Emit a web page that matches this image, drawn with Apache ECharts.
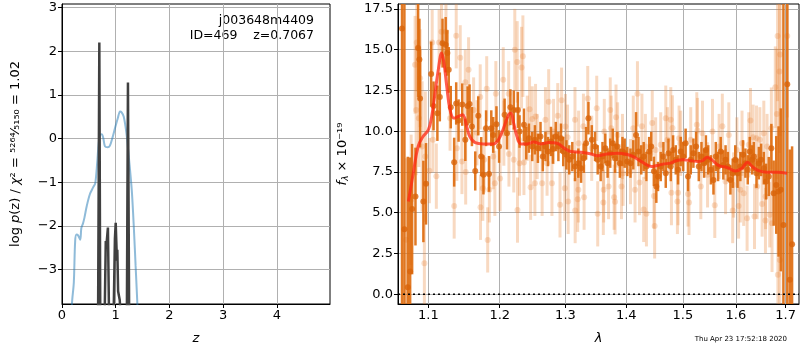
<!DOCTYPE html>
<html>
<head>
<meta charset="utf-8">
<script src="https://cdn.jsdelivr.net/npm/echarts@6/dist/echarts.min.js"></script>
<style>
html, body { margin: 0; padding: 0; background: #fff; }
#chart { width: 800px; height: 350px; }
</style>
</head>
<body>
<div id="chart"></div>
<script>
// left panel: p(z)
var zBlue = [0.16,0.19,0.22,0.245,0.27,0.30,0.34,0.36,0.39,0.42,0.46,0.52,0.58,0.62,0.655,0.68,0.705,0.74,0.77,0.80,0.85,0.89,0.94,0.99,1.04,1.08,1.11,1.15,1.20,1.25,1.30,1.34,1.37,1.40,1.42]
var pBlue = [-4.3,-3.7,-3.3,-2.35,-2.2,-2.22,-2.32,-2.05,-1.95,-1.8,-1.55,-1.27,-1.12,-1.02,-0.56,-0.15,0.08,0.1,0.0,-0.18,-0.2,-0.17,0.02,0.25,0.47,0.62,0.6,0.5,0.12,-0.5,-1.2,-2.1,-2.9,-3.7,-4.3]
var zBlack = [0.60,0.672,0.695,0.712,0.76,0.795,0.815,0.83,0.855,0.875,0.93,0.962,0.985,1.0,1.015,1.022,1.03,1.045,1.06,1.075,1.09,1.15,1.208,1.228,1.25,1.30]
var pBlack = [-4.5,-4.0,2.2,-4.0,-4.5,-4.0,-2.35,-2.4,-2.04,-4.0,-4.5,-4.0,-2.3,-1.93,-2.5,-2.8,-2.55,-3.5,-3.6,-3.7,-4.0,-4.5,-4.0,1.28,-4.0,-4.5]
var zTicks = [0,1,2,3,4]
var pTicks = [-3,-2,-1,0,1,2,3]

// right panel: spectrum
var lamDark = [1.0653,1.0684,1.0728,1.0759,1.0785,1.0829,1.0864,1.0881,1.0890,1.0934,1.0969,1.1038,1.1070,1.1122,1.1155,1.1192,1.1235,1.1258,1.1277,1.1305,1.1352,1.1380,1.1413,1.1464,1.1507,1.1539,1.1567,1.1600,1.1647,1.1690,1.1732,1.1764,1.1802,1.1844,1.1877,1.1905,1.1952,1.1990,1.2071,1.2106,1.2157,1.2207,1.2268,1.2293,1.2359,1.2394,1.2434,1.2485,1.2525,1.2571,1.2611,1.2646,1.2687,1.2727,1.2773,1.2803,1.2848,1.2889,1.2929,1.2965,1.3016,1.3060,1.3109,1.3152,1.3206,1.3250,1.3293,1.3331,1.3369,1.3424,1.3478,1.3521,1.3570,1.3600,1.3647,1.3685,1.3729,1.3772,1.3810,1.3848,1.3891,1.3935,1.3973,1.4018,1.4072,1.4120,1.4168,1.4210,1.4258,1.4300,1.4348,1.4396,1.4432,1.4480,1.4522,1.4552,1.4600,1.4648,1.4690,1.4738,1.4780,1.4822,1.4870,1.4912,1.4960,1.5006,1.5050,1.5094,1.5144,1.5193,1.5243,1.5293,1.5343,1.5393,1.5426,1.5470,1.5520,1.5569,1.5613,1.5657,1.5707,1.5757,1.5800,1.5844,1.5894,1.5938,1.5988,1.6033,1.6087,1.6140,1.6187,1.6233,1.6273,1.6320,1.6354,1.6407,1.6454,1.6500,1.6554,1.6600,1.6654,1.6707,1.6754,1.6807,1.6854,1.6900,1.6954,1.7034,1.7087,1.7134]
var fluxDark = [16.3,3.98,0.43,1.39,5.22,5.99,15.1,14.4,12.0,5.69,6.77,13.5,11.55,11.1,12.1,15.4,15.3,14.8,13.76,11.47,8.1,11.7,10.65,11.63,9.47,11.55,11.67,10.28,7.56,10.94,8.44,7.32,10.18,7.38,10.18,9.77,10.43,9.06,11.0,9.88,11.47,11.3,11.3,9.98,10.39,9.26,9.57,9.06,9.47,8.95,9.67,8.44,9.06,8.75,9.37,8.9,9.67,9.06,9.57,8.75,8.55,8.24,8.44,7.83,8.04,7.73,8.34,9.26,10.8,9.47,9.06,8.24,7.83,8.44,8.95,8.04,8.65,9.26,8.34,9.06,8.04,8.75,8.65,8.14,8.04,8.55,9.77,8.75,8.24,8.44,7.83,8.75,9.06,7.54,6.6,7.22,7.83,8.44,7.42,8.65,7.83,8.85,8.24,7.63,8.75,8.44,9.26,7.22,8.24,8.65,9.06,7.83,8.44,8.04,8.85,8.24,7.63,7.01,8.44,7.83,8.75,7.93,8.24,7.83,7.01,7.42,8.24,7.42,7.83,8.55,8.04,7.63,8.75,8.24,8.44,7.42,8.04,8.24,7.73,6.91,7.22,8.95,6.2,6.7,6.3,6.4,4.25,12.88,0.88,3.07]
var errDark = [20,15,8,7,4,3,3,2.5,3,2.5,2.5,2,1.5,1.7,1.5,1.5,1.7,1.4,1.4,1.3,1.5,1.3,1.3,1.3,1.3,1.2,1.2,1.2,1.2,1.2,1.2,1.2,1.1,1.1,1.1,1.1,1.1,1.0,1.0,1.0,1.1,1.2,1.1,1.0,1.0,1.0,0.9,0.9,0.9,0.9,0.9,0.9,0.9,0.9,0.9,0.9,0.9,0.9,0.9,0.9,0.9,0.9,0.9,0.9,0.9,0.9,0.9,1.0,1.0,0.9,0.9,0.9,0.9,0.9,0.9,0.9,0.9,0.9,0.9,0.9,0.9,0.9,0.9,0.9,0.9,0.9,1.4,0.9,0.9,0.9,0.9,0.9,0.9,0.9,1.0,0.9,0.9,0.9,0.9,0.9,0.9,0.9,0.9,0.9,0.9,0.9,0.9,0.9,0.9,0.9,0.9,0.9,0.9,0.9,0.9,0.9,0.9,0.9,0.9,0.9,0.9,0.9,0.9,0.9,0.9,0.9,0.9,0.9,0.9,0.9,0.9,0.9,0.9,0.9,0.9,0.9,1.0,1.0,1.0,1.1,1.2,1.5,2,3,4,5,16,20,8,6]

var lamLight = [1.0706,1.0772,1.0824,1.0838,1.0846,1.0873,1.0890,1.0917,1.0947,1.0960,1.1014,1.1052,1.1061,1.1108,1.1145,1.1178,1.1239,1.1295,1.1352,1.1380,1.1389,1.1436,1.1460,1.1507,1.1512,1.1553,1.1624,1.1671,1.1718,1.1722,1.1755,1.1774,1.1811,1.1825,1.1849,1.1905,1.1929,1.1943,1.2005,1.2051,1.2060,1.2131,1.2135,1.2207,1.2222,1.2258,1.2262,1.2283,1.2293,1.2323,1.2343,1.2359,1.2409,1.2444,1.2460,1.2485,1.2525,1.2535,1.2560,1.2636,1.2687,1.2712,1.2737,1.2788,1.2813,1.2879,1.2914,1.2939,1.2990,1.3000,1.3033,1.3043,1.3152,1.3155,1.3195,1.3206,1.3210,1.3288,1.3299,1.3358,1.3423,1.3505,1.3521,1.3614,1.3620,1.3630,1.3701,1.3729,1.3745,1.3794,1.3810,1.3826,1.3853,1.3919,1.3935,1.3946,1.4072,1.4120,1.4150,1.4192,1.4228,1.4270,1.4300,1.4330,1.4348,1.4450,1.4480,1.4492,1.4510,1.4600,1.4690,1.4720,1.4780,1.4792,1.4810,1.4900,1.4912,1.4930,1.4960,1.5094,1.5112,1.5144,1.5256,1.5268,1.5331,1.5362,1.5457,1.5551,1.5594,1.5676,1.5738,1.5800,1.5863,1.5938,1.5956,1.6020,1.6053,1.6087,1.6120,1.6153,1.6220,1.6253,1.6287,1.6340,1.6367,1.6407,1.6420,1.6474,1.6520,1.6554,1.6587,1.6590,1.6620,1.6674,1.6707,1.6720,1.6787,1.6820,1.6834,1.6840,1.6874,1.6880,1.6887,1.7034]
var fluxLight = [3.34,5.79,14.07,11.3,15.44,10.8,13.25,9.06,1.9,8.44,7.58,15.44,9.47,7.24,15.44,16.1,16.1,10.8,5.41,15.85,8.95,14.5,8.14,13.0,7.5,13.76,11.3,9.9,12.1,5.33,6.5,8.24,12.6,3.33,6.4,8.44,6.8,12.3,7.1,13.15,9.88,12.3,8.6,8.24,15.0,14.25,5.16,9.47,8.04,13.9,14.6,8.08,10.18,11.35,6.56,10.75,6.8,10.9,9.06,6.8,10.7,8.04,11.8,6.8,9.98,10.95,5.48,11.9,6.5,10.28,9.63,5.69,10.7,5.13,5.82,6.4,9.26,10.3,5.95,12.0,8.95,11.4,4.93,5.63,6.4,9.98,6.6,11.3,10.18,5.95,5.67,10.86,9.77,6.6,9.06,7.42,7.52,10.18,6.4,12.29,6.85,10.3,5.2,9.06,4.93,10.5,6.03,4.19,8.85,9.16,10.8,9.47,10.7,6.23,10.2,5.69,6.23,9.57,9.26,6.15,5.63,9.47,10.39,10.04,6.6,9.87,7.32,9.98,5.45,9.06,10.3,6.91,9.77,5.13,6.7,8.85,5.41,6.4,9.26,6.19,4.66,9.16,10.65,9.63,4.77,9.57,6.6,9.47,5.53,9.87,4.52,5.99,9.06,4.87,10.18,4.36,12.7,11.06,15.84,1.19,13.66,2.1,14.7,15.84]
var errLight = [5,4,3,4,3,3,3,4,3,4,2,2,2,2,2,2,2,2,2,2,2,2,2,2,2,2,2,2,2,2,2,2,2,2,2,2,2,2,2,2,2,2,2,2,2.5,2.5,2,2,2,2.5,2.5,2,2,2,2,2,2,2,2,2,2,2,2,2,2,2,2,2,2,2,2,2,2,2,2,2,2,2,2,2,2,2,2,2,2,2,2,2,2,2,2,2,2,2,2,2,2,2,2,2,2,2,2,2,2,2,2,2,2,2,2,2,2,2,2,2,2,2,2,2,2,2,2,2,2,2,2,2,2,2,2,2,2,2,2,2,2,2,2,2,2,2,2,2,2,2,2,2,2,2,2,2,2,2,2.5,3,2.5,4,4,5,5,4,5,5,6]

var lamModel = [1.0736,1.080,1.0864,1.0929,1.100,1.1045,1.109,1.1134,1.118,1.1212,1.125,1.1295,1.135,1.141,1.147,1.1527,1.157,1.1646,1.176,1.1906,1.198,1.2055,1.213,1.2165,1.2205,1.2255,1.2315,1.2406,1.251,1.261,1.274,1.287,1.298,1.3085,1.325,1.341,1.352,1.368,1.385,1.40,1.412,1.429,1.444,1.453,1.465,1.477,1.489,1.501,1.516,1.529,1.537,1.545,1.554,1.567,1.583,1.599,1.612,1.623,1.632,1.645,1.662,1.683,1.703]
var fluxModel = [5.68,7.42,9.06,9.67,10.08,10.9,12.33,13.76,14.8,14.17,12.74,11.3,10.8,10.9,11.0,10.28,9.67,9.3,9.22,9.22,9.47,10.18,11.0,11.1,10.49,9.67,9.22,9.22,9.34,9.22,9.3,9.26,8.96,8.75,8.71,8.6,8.5,8.6,8.65,8.59,8.44,8.07,7.83,7.89,7.99,8.04,8.2,8.24,8.18,8.14,8.2,8.4,8.24,7.89,7.77,7.56,7.73,8.1,7.83,7.58,7.48,7.48,7.42]

var lamTicks = [1.1,1.2,1.3,1.4,1.5,1.6,1.7]
var fTicks = [0,2.5,5,7.5,10,12.5,15,17.5]

var FONT = 'DejaVu Sans'
var GRIDC = '#b0b0b0'
var lamMin = 1.0601, lamMax = 1.7279

var myChart = echarts.init(document.getElementById('chart'))

function axisCommon(extra) {
  var a = {
    axisLine: { show: true, onZero: false, lineStyle: { color: '#000', width: 1 } },
    axisTick: { show: true, length: 4, lineStyle: { color: '#000' } },
    axisLabel: { color: '#000', fontSize: 13, fontFamily: FONT, margin: 5 },
    splitLine: { show: true, lineStyle: { color: GRIDC, width: 1 } },
    nameTextStyle: { color: '#000', fontSize: 13, fontFamily: FONT }
  }
  for (var k in extra) {
    if (typeof extra[k] === 'object' && a[k] && !Array.isArray(extra[k])) {
      for (var j in extra[k]) a[k][j] = extra[k][j]
    } else a[k] = extra[k]
  }
  return a
}

// error bars through the axis scale
function errBars(lam, flux, err, color, width, z) {
  return {
    type: 'custom', xAxisIndex: 1, yAxisIndex: 1, clip: true, z: z, silent: true,
    encode: { x: 0, y: [1, 2] },
    data: lam.map(function (l, i) { return [Math.log(l), flux[i] - err[i], flux[i] + err[i]] }),
    renderItem: function (params, api) {
      var p0 = api.coord([api.value(0), api.value(1)])
      var p1 = api.coord([api.value(0), api.value(2)])
      return { type: 'line', shape: { x1: p0[0], y1: p0[1], x2: p1[0], y2: p1[1] },
        style: { stroke: color, lineWidth: width } }
    }
  }
}

myChart.setOption({
  animation: false,
  grid: [
    { left: 62, top: 4, width: 268, height: 300, show: true, borderColor: '#000', borderWidth: 1, backgroundColor: 'transparent' },
    { left: 398, top: 4, width: 401, height: 300, show: true, borderColor: '#000', borderWidth: 1, backgroundColor: 'transparent' }
  ],
  xAxis: [
    axisCommon({ type: 'value', gridIndex: 0, min: 0, max: 4.99,
      name: 'z', nameLocation: 'middle', nameGap: 28,
      nameTextStyle: { fontStyle: 'italic' },
      axisTick: { customValues: zTicks },
      axisLabel: { customValues: zTicks } }),
    axisCommon({ type: 'value', gridIndex: 1, min: Math.log(lamMin), max: Math.log(lamMax),
      name: 'λ', nameLocation: 'middle', nameGap: 28,
      nameTextStyle: { fontStyle: 'italic' },
      axisTick: { customValues: lamTicks.map(Math.log) },
      axisLabel: { customValues: lamTicks.map(Math.log), formatter: function (v) { return Math.exp(v).toFixed(1) } } })
  ],
  yAxis: [
    axisCommon({ type: 'value', gridIndex: 0, min: -3.79, max: 3.08,
      name: '{n|log }{i|p}{n|(z) / }{i|χ}{n|² = ⁵²⁶⁴⁄₅₁₅₀ = 1.02}', nameLocation: 'middle', nameGap: 40,
      nameTextStyle: { rich: { n: { fontSize: 13, fontFamily: FONT, color: '#000' }, i: { fontSize: 13, fontFamily: FONT, fontStyle: 'italic', color: '#000' } } },
      axisTick: { customValues: pTicks },
      axisLabel: { customValues: pTicks, formatter: function (v) { return String(v).replace('-', '−') } } }),
    axisCommon({ type: 'value', gridIndex: 1, min: -0.6, max: 17.8,
      name: '{i|f}{s|λ}{n| × 10⁻¹⁹}', nameLocation: 'middle', nameGap: 48,
      nameTextStyle: { rich: { n: { fontSize: 13, fontFamily: FONT, color: '#000' }, i: { fontSize: 13, fontFamily: FONT, fontStyle: 'italic', color: '#000' }, s: { fontSize: 9, fontFamily: FONT, fontStyle: 'italic', color: '#000', verticalAlign: 'bottom', padding: [6, 0, 0, 0] } } },
      axisTick: { customValues: fTicks },
      axisLabel: { customValues: fTicks, formatter: function (v) { return v.toFixed(1) } } })
  ],
  graphic: [
    { type: 'text', right: 800 - 314, top: 14, style: { text: 'j003648m4409', fontSize: 12.5, fontFamily: FONT, fill: '#000', textAlign: 'right' } },
    { type: 'text', right: 800 - 314, top: 29, style: { text: 'ID=469    z=0.7067', fontSize: 12.5, fontFamily: FONT, fill: '#000', textAlign: 'right' } },
    { type: 'text', right: 13, top: 336, style: { text: 'Thu Apr 23 17:52:18 2020', fontSize: 7, fontFamily: FONT, fill: '#000' } }
  ],
  series: [
    { type: 'line', xAxisIndex: 0, yAxisIndex: 0, showSymbol: false, clip: true, z: 3,
      data: zBlue.map(function (z, i) { return [z, pBlue[i]] }),
      smooth: 0.3, lineStyle: { color: 'rgba(31,119,180,0.5)', width: 2 } },
    { type: 'line', xAxisIndex: 0, yAxisIndex: 0, showSymbol: false, clip: true, z: 4,
      data: zBlack.map(function (z, i) { return [z, pBlack[i]] }),
      lineStyle: { color: '#404040', width: 2.5 } },

    errBars(lamLight, fluxLight, errLight, 'rgba(232,128,50,0.3)', 3, 2),
    { type: 'scatter', xAxisIndex: 1, yAxisIndex: 1, z: 2, symbolSize: 6, silent: true,
      data: lamLight.map(function (l, i) { return [Math.log(l), fluxLight[i]] }),
      itemStyle: { color: 'rgba(232,128,50,0.32)' } },
    errBars(lamDark, fluxDark, errDark, 'rgba(222,106,12,0.9)', 2.5, 3),
    { type: 'scatter', xAxisIndex: 1, yAxisIndex: 1, z: 3, symbolSize: 6, silent: true,
      data: lamDark.map(function (l, i) { return [Math.log(l), fluxDark[i]] }),
      itemStyle: { color: '#d9640a' } },
    { type: 'line', xAxisIndex: 1, yAxisIndex: 1, showSymbol: false, clip: true, z: 5, smooth: 0.4,
      data: lamModel.map(function (l, i) { return [Math.log(l), fluxModel[i]] }),
      lineStyle: { color: 'rgba(255,40,20,0.75)', width: 3 } },
    { type: 'line', xAxisIndex: 1, yAxisIndex: 1, showSymbol: false, z: 6,
      data: [[Math.log(lamMin), 0], [Math.log(lamMax), 0]],
      lineStyle: { color: '#000', width: 1.5, type: [2, 3] } }
  ]
})
</script>
</body>
</html>
